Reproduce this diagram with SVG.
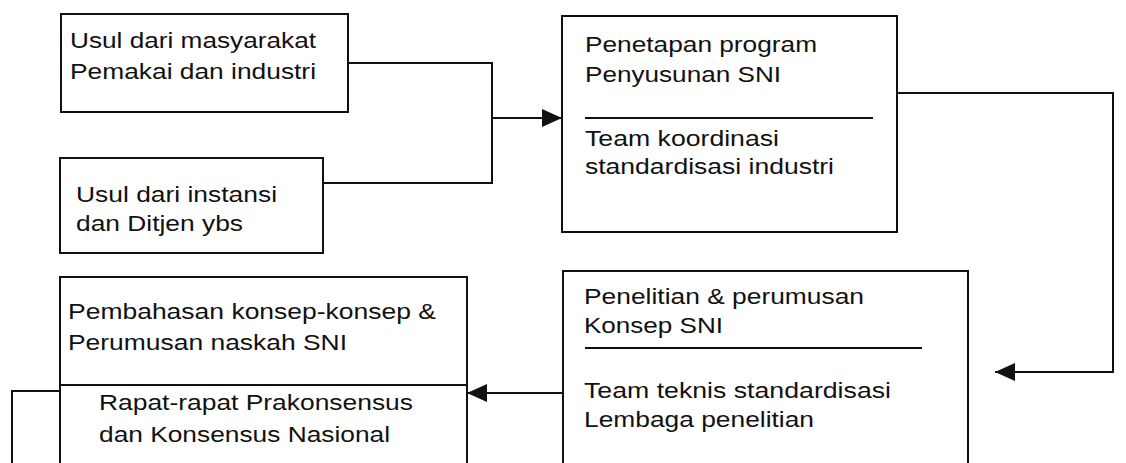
<svg xmlns="http://www.w3.org/2000/svg" width="1126" height="463" viewBox="0 0 1126 463">
<style>
.box{fill:none;stroke:#111;stroke-width:2}
.div{stroke:#111;stroke-width:2}
.con{fill:none;stroke:#111;stroke-width:2}
text{font-family:"Liberation Sans",Arial,sans-serif;font-size:22px;fill:#111}
</style>
<defs>
<marker id="ah" markerUnits="userSpaceOnUse" markerWidth="20" markerHeight="18" refX="20" refY="9" orient="auto">
<path d="M0,0 L20,9 L0,18 z" fill="#111"/>
</marker>
</defs>
<rect width="1126" height="463" fill="#fff"/>
<g id="connectors">
<path class="con" d="M348,63 H492 V183 H323"/>
<path class="con" d="M492,118 H562" marker-end="url(#ah)"/>
<path class="con" d="M897,93 H1113 V372 H995" marker-end="url(#ah)"/>
<path class="con" d="M563,393 H467" marker-end="url(#ah)"/>
<path class="con" d="M60,391 H12 V470"/>
</g>
<g id="n1">
<rect class="box" x="61" y="14" width="287" height="98"/>
<text x="70" y="48" textLength="246" lengthAdjust="spacingAndGlyphs">Usul dari masyarakat</text>
<text x="70" y="79" textLength="246" lengthAdjust="spacingAndGlyphs">Pemakai dan industri</text>
</g>
<g id="n2">
<rect class="box" x="60" y="158" width="263" height="95"/>
<text x="76" y="202" textLength="201" lengthAdjust="spacingAndGlyphs">Usul dari instansi</text>
<text x="76" y="231" textLength="167" lengthAdjust="spacingAndGlyphs">dan Ditjen ybs</text>
</g>
<g id="n3">
<rect class="box" x="562" y="16" width="335" height="216"/>
<text x="585" y="52" textLength="232" lengthAdjust="spacingAndGlyphs">Penetapan program</text>
<text x="585" y="82" textLength="196" lengthAdjust="spacingAndGlyphs">Penyusunan SNI</text>
<line class="div" x1="585" y1="118" x2="873" y2="118"/>
<text x="585" y="146" textLength="194" lengthAdjust="spacingAndGlyphs">Team koordinasi</text>
<text x="585" y="174" textLength="249" lengthAdjust="spacingAndGlyphs">standardisasi industri</text>
</g>
<g id="n4">
<rect class="box" x="563" y="271" width="405" height="210"/>
<text x="584" y="304" textLength="280" lengthAdjust="spacingAndGlyphs">Penelitian &amp; perumusan</text>
<text x="584" y="333" textLength="139" lengthAdjust="spacingAndGlyphs">Konsep SNI</text>
<line class="div" x1="585" y1="348" x2="922" y2="348"/>
<text x="584" y="398" textLength="307" lengthAdjust="spacingAndGlyphs">Team teknis standardisasi</text>
<text x="584" y="427" textLength="230" lengthAdjust="spacingAndGlyphs">Lembaga penelitian</text>
</g>
<g id="n5">
<rect class="box" x="60" y="277" width="407" height="210"/>
<text x="68" y="319" textLength="368" lengthAdjust="spacingAndGlyphs">Pembahasan konsep-konsep &amp;</text>
<text x="68" y="350" textLength="279" lengthAdjust="spacingAndGlyphs">Perumusan naskah SNI</text>
<line class="div" x1="60" y1="385" x2="467" y2="385"/>
<text x="99" y="410" textLength="314" lengthAdjust="spacingAndGlyphs">Rapat-rapat Prakonsensus</text>
<text x="99" y="442" textLength="291" lengthAdjust="spacingAndGlyphs">dan Konsensus Nasional</text>
</g>
</svg>
